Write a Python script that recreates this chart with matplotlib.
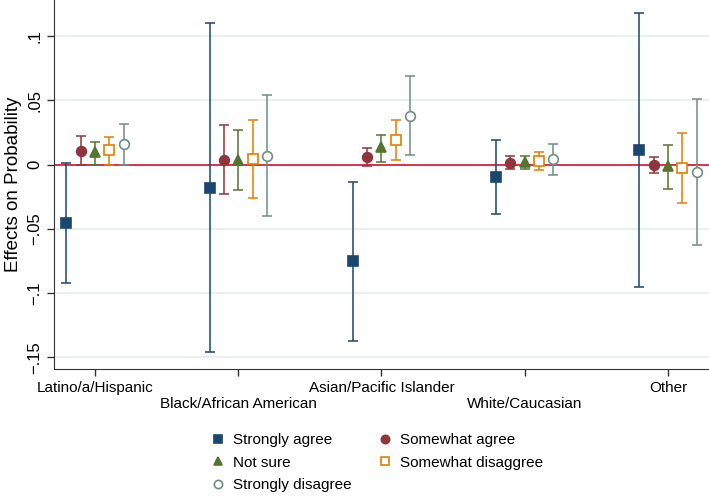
import numpy as np
import matplotlib.pyplot as plt

plt.rcParams['font.family'] = ['Liberation Sans', 'DejaVu Sans']

groups = ['Latino/a/Hispanic', 'Black/African American', 'Asian/Pacific Islander',
          'White/Caucasian', 'Other']
series = ['Strongly agree', 'Somewhat agree', 'Not sure', 'Somewhat disaggree', 'Strongly disagree']

# point estimates, per series, per group
sa_est = [-0.0456, -0.0184, -0.0749, -0.0098, 0.0112]
swa_est = [0.0109, 0.0039, 0.0060, 0.0016, -0.0005]
ns_est = [0.0096, 0.0035, 0.0135, 0.0023, -0.0010]
swd_est = [0.0110, 0.0044, 0.0192, 0.0029, -0.0028]
sd_est = [0.0158, 0.0070, 0.0381, 0.0042, -0.0057]

# confidence interval bounds
sa_lo = [-0.092, -0.146, -0.137, -0.0386, -0.0953]
sa_hi = [0.001, 0.110, -0.0132, 0.0195, 0.118]
swa_lo = [-0.0005, -0.023, -0.0008, -0.0031, -0.0065]
swa_hi = [0.0223, 0.031, 0.0127, 0.0065, 0.0060]
ns_lo = [0.0, -0.020, 0.0019, -0.0033, -0.019]
ns_hi = [0.0174, 0.027, 0.023, 0.0070, 0.0156]
swd_lo = [0.0, -0.026, 0.0034, -0.0044, -0.0296]
swd_hi = [0.0218, 0.0348, 0.0345, 0.0096, 0.0244]
sd_lo = [0.0, -0.040, 0.0073, -0.0080, -0.0622]
sd_hi = [0.0316, 0.054, 0.069, 0.0163, 0.0508]

ests = [sa_est, swa_est, ns_est, swd_est, sd_est]
los = [sa_lo, swa_lo, ns_lo, swd_lo, sd_lo]
his = [sa_hi, swa_hi, ns_hi, swd_hi, sd_hi]

colors = ['#1a476f', '#90353b', '#55752f', '#e37e00', '#6e8e84']
markers = ['s', 'o', '^', 's', 'o']
filled = [True, True, True, False, False]
offsets = [-0.2, -0.1, 0.0, 0.1, 0.2]

fig = plt.figure(figsize=(7.09, 5), dpi=100)
ax = fig.add_axes([0.076, 0.262, 0.924, 0.738])

x = np.arange(1, len(groups) + 1)
handles = []
for est, lo, hi, c, m, f, off, name in zip(ests, los, his, colors, markers, filled, offsets, series):
    est = np.array(est)
    yerr = [est - np.array(lo), np.array(hi) - est]
    ax.errorbar(x + off, est, yerr=yerr, fmt='none', ecolor=c, elinewidth=1.1,
                capsize=3.3, capthick=1.1, zorder=3)
    h, = ax.plot(x + off, est, linestyle='none', marker=m, markersize=7 if m != '^' else 7.5,
                 color=c, markerfacecolor=c if f else 'white', markeredgecolor=c,
                 markeredgewidth=1.2, zorder=4, label=name)
    handles.append(h)

ax.axhline(0, color='#e0203c', lw=1.3, zorder=2)

yticks = [0.1, 0.05, 0, -0.05, -0.1, -0.15]
ylabels = ['.1', '.05', '0', '\u2212.05', '\u2212.1', '\u2212.15']
ax.set_yticks(yticks)
ax.set_yticklabels(ylabels, rotation=90, va='center', fontsize=12)
ax.set_ylim(-0.159, 0.128)
ax.set_xlim(0.713, 5.287)
ax.yaxis.grid(True, color='#e4eef0', lw=1.2, zorder=0)
ax.set_axisbelow(True)

xlabels = [g if i % 2 == 0 else '\n' + g for i, g in enumerate(groups)]
ax.set_xticks(x)
ax.set_xticklabels(xlabels, fontsize=11)
ax.set_ylabel('Effects on Probability', fontsize=13.5, labelpad=4)

ax.tick_params(direction='out', length=5, color='#333333', width=1)
for s in ['top', 'right']:
    ax.spines[s].set_visible(False)
for s in ['left', 'bottom']:
    ax.spines[s].set_color('#333333')

order = [0, 2, 4, 1, 3]
leg = fig.legend([handles[i] for i in order], [series[i] for i in order],
                 ncol=2, loc='upper left', bbox_to_anchor=(0.279, 0.161),
                 frameon=False, fontsize=11, handlelength=0.8, handletextpad=0.6,
                 columnspacing=1.8, labelspacing=0.55, markerscale=0.85)

fig.savefig('out.png', dpi=100)
